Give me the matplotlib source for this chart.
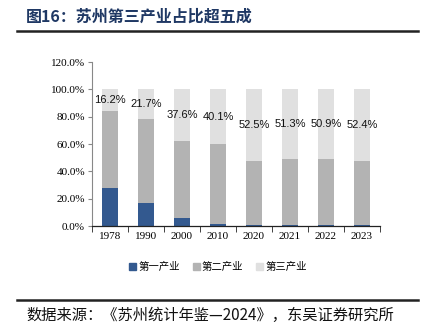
import matplotlib
matplotlib.use("Agg")
import matplotlib.pyplot as plt
from matplotlib.lines import Line2D
from matplotlib.patches import Patch
import numpy as np

years = ["1978", "1990", "2000", "2010", "2020", "2021", "2022", "2023"]
primary = [27.5, 17.0, 5.5, 1.2, 1.0, 0.9, 0.8, 0.8]
secondary = [56.3, 61.3, 56.9, 58.7, 46.5, 47.8, 48.3, 46.8]
tertiary = [16.2, 21.7, 37.6, 40.1, 52.5, 51.3, 50.9, 52.4]
series_names = ["第一产业", "第二产业", "第三产业"]
yticks = [0, 20, 40, 60, 80, 100, 120]

title = "图16：苏州第三产业占比超五成"
source = "数据来源：《苏州统计年鉴—2024》，东吴证券研究所"

cjk = ["Noto Sans CJK SC", "DejaVu Sans"]
serif = ["Liberation Serif", "DejaVu Serif"]
sans = ["Liberation Sans", "DejaVu Sans"]

c1, c2, c3 = "#33598f", "#b3b3b3", "#e0e0e0"

W, H = 432, 334
fig = plt.figure(figsize=(W / 100, H / 100), dpi=100)
fig.patch.set_facecolor("white")

def px(x, y):
    return x / W, 1 - y / H

# title
tx, ty = px(26, 17)
fig.text(tx, ty, title, family=cjk, fontsize=11.5, fontweight="bold",
         color="#1f3864", va="center", ha="left")
# separator lines
for yy in (31, 300):
    x0, y0 = px(17, yy)
    x1, _ = px(418, yy)
    fig.add_artist(Line2D([x0, x1], [y0, y0], transform=fig.transFigure,
                          color="#222222", lw=1.8))
sx, sy = px(26, 315)
fig.text(sx, sy, source, family=cjk, fontsize=11, color="#111111",
         va="center", ha="left")

# axes
left, bottom = px(92, 226)
_, top = px(92, 62)
ax = fig.add_axes([left, bottom, 288 / W, top - bottom])
x = np.arange(len(years))
bw = 0.44
b1 = ax.bar(x, primary, bw, color=c1, label=series_names[0])
b2 = ax.bar(x, secondary, bw, bottom=primary, color=c2, label=series_names[1])
base3 = np.array(primary) + np.array(secondary)
b3 = ax.bar(x, tertiary, bw, bottom=base3, color=c3, label=series_names[2])

for xi, b, t in zip(x, base3, tertiary):
    ax.text(xi, b + t / 2, f"{t:.1f}%", ha="center", va="center",
            family=sans, fontsize=8, color="#111111")

ax.set_xlim(-0.5, len(years) - 0.5)
ax.set_ylim(0, 120)
ax.set_yticks(yticks)
ax.set_yticklabels([f"{v:.1f}%" for v in yticks], family=serif, fontsize=8)
ax.set_xticks(x)
ax.set_xticklabels(years, family=serif, fontsize=8)
ax.tick_params(axis="x", length=0, pad=4)
ax.set_xticks(np.arange(-0.5, len(years)), minor=True)
ax.tick_params(axis="x", which="minor", length=4, color="#222222", direction="out")
ax.tick_params(axis="y", length=3, color="#888888", direction="out", pad=2)
for s in ("top", "right"):
    ax.spines[s].set_visible(False)
ax.spines["left"].set_color("#888888")
ax.spines["bottom"].set_color("#222222")
ax.spines["left"].set_linewidth(0.8)
ax.spines["bottom"].set_linewidth(0.9)

handles = [Patch(color=c1), Patch(color=c2), Patch(color=c3)]
lx, ly = px(218, 267)
fig.legend(handles, series_names, loc="center", bbox_to_anchor=(lx, ly),
           ncol=3, frameon=False, prop={"family": cjk, "size": 7.5},
           handlelength=0.7, handleheight=0.7, handletextpad=0.2,
           columnspacing=1.2)

fig.savefig("out.png", dpi=100, facecolor="white")
